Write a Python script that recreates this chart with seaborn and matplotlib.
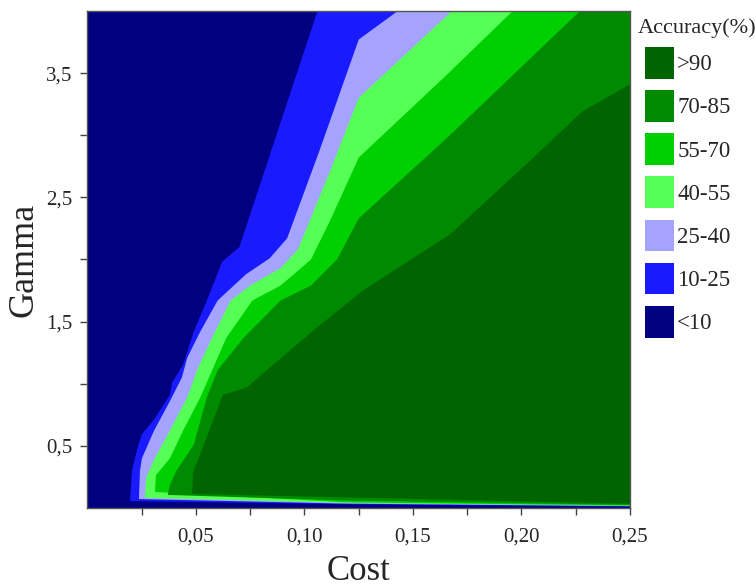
import matplotlib
matplotlib.use("Agg")
import matplotlib.pyplot as plt
import seaborn as sns
from matplotlib.patches import Patch

# ---------------- data ----------------
# Iso-accuracy boundary lines: cost (x) and gamma (y), from top/right edge down to bottom-left corner
b10_cost = [0.106, 0.070, 0.062, 0.055, 0.049, 0.044, 0.039, 0.038, 0.031, 0.025, 0.023, 0.0205, 0.0196]
b10_gamma = [4.0, 2.10, 1.98, 1.67, 1.42, 1.15, 1.01, 0.91, 0.72, 0.59, 0.48, 0.30, 0.056]

b25_cost = [0.143, 0.125, 0.107, 0.092, 0.084, 0.073, 0.060, 0.052, 0.046, 0.0435, 0.038, 0.0306, 0.0251, 0.0242, 0.0237]
b25_gamma = [4.0, 3.77, 2.88, 2.17, 2.01, 1.88, 1.67, 1.42, 1.21, 1.05, 0.86, 0.62, 0.40, 0.30, 0.072]

b40_cost = [0.168, 0.125, 0.112, 0.097, 0.089, 0.075, 0.066, 0.058, 0.051, 0.046, 0.037, 0.031, 0.027, 0.0265]
b40_gamma = [4.0, 3.30, 2.72, 2.08, 1.93, 1.79, 1.67, 1.39, 1.13, 0.89, 0.59, 0.40, 0.24, 0.080]

b55_cost = [0.196, 0.167, 0.125, 0.112, 0.103, 0.089, 0.076, 0.064, 0.058, 0.052, 0.044, 0.038, 0.0316, 0.0311]
b55_gamma = [4.0, 3.51, 2.82, 2.32, 2.00, 1.79, 1.67, 1.37, 1.13, 0.89, 0.62, 0.40, 0.265, 0.129]

b70_cost = [0.227, 0.167, 0.125, 0.115, 0.103, 0.089, 0.072, 0.060, 0.055, 0.049, 0.041, 0.038, 0.037]
b70_gamma = [4.0, 3.00, 2.33, 2.00, 1.79, 1.67, 1.37, 1.11, 0.89, 0.51, 0.30, 0.185, 0.105]

b85_cost = [0.25, 0.228, 0.203, 0.167, 0.150, 0.127, 0.107, 0.084, 0.0735, 0.0624, 0.0486, 0.0482]
b85_gamma = [3.41, 3.19, 2.78, 2.20, 2.01, 1.75, 1.47, 1.13, 0.97, 0.91, 0.28, 0.113]

# thin strips along the bottom edge (gamma of each boundary at cost 0.12 and 0.25)
bottom_cost = [0.12, 0.25]
b10_bottom = [0.030, 0.010]
b25_bottom = [0.035, 0.015]
b40_bottom = [0.040, 0.018]
b55_bottom = [0.045, 0.020]
b70_bottom = [0.060, 0.025]
b85_bottom = [0.085, 0.035]

labels = ["<10", "10-25", "25-40", "40-55", "55-70", "70-85", ">90"]
colors = ["#000080", "#1a1aff", "#a4a4ff", "#55ff55", "#00d000", "#008a00", "#006400"]

x_ticks = [0.05, 0.10, 0.15, 0.20, 0.25]
x_tick_labels = ["0,05", "0,10", "0,15", "0,20", "0,25"]
x_minor = [0.025, 0.075, 0.125, 0.175, 0.225]
y_ticks = [0.5, 1.5, 2.5, 3.5]
y_tick_labels = ["0,5", "1,5", "2,5", "3,5"]
y_minor = [1.0, 2.0, 3.0]

# ---------------- plotting ----------------
sns.set_theme(style="ticks")
plt.rcParams["font.family"] = ["Liberation Serif", "DejaVu Serif"]

fig = plt.figure(figsize=(7.56, 5.87), dpi=100)
ax = fig.add_axes([0.1157, 0.1346, 0.8333 - 0.1157, 0.9813 - 0.1346])
ax.set_xlim(0, 0.25)
ax.set_ylim(0, 4.0)

# background (<10)
ax.fill([0, 0.25, 0.25, 0], [0, 0, 4.0, 4.0], color=colors[0], lw=0, zorder=1)

bounds = [
    (b10_cost, b10_gamma, b10_bottom),
    (b25_cost, b25_gamma, b25_bottom),
    (b40_cost, b40_gamma, b40_bottom),
    (b55_cost, b55_gamma, b55_bottom),
    (b70_cost, b70_gamma, b70_bottom),
    (b85_cost, b85_gamma, b85_bottom),
]
for i, (bc, bg, bb) in enumerate(bounds):
    xs = list(bc) + list(bottom_cost)
    ys = list(bg) + list(bb)
    if bg[0] >= 4.0:
        xs.append(0.25)
        ys.append(4.0)
    ax.fill(xs, ys, color=colors[i + 1], lw=0, zorder=2 + i, antialiased=True)

ax.set_xticks(x_ticks)
ax.set_xticklabels(x_tick_labels)
ax.set_xticks(x_minor, minor=True)
ax.set_yticks(y_ticks)
ax.set_yticklabels(y_tick_labels)
ax.set_yticks(y_minor, minor=True)
ax.tick_params(axis="both", which="both", direction="out", length=5, width=1,
               color="#444444", labelsize=15)
ax.tick_params(axis="x", which="major", pad=9)
ax.tick_params(axis="y", which="major", pad=6)
for sp in ax.spines.values():
    sp.set_color("#555555")
    sp.set_linewidth(1)
    sp.set_zorder(20)

ax.set_xlabel("Cost", fontsize=25, labelpad=6)
ax.set_ylabel("Gamma", fontsize=26, labelpad=4)

fig.text(638 / 756, 1 - 28 / 587, "Accuracy(%)", fontsize=16, ha="left", va="center")

handles = [Patch(facecolor=colors[k], edgecolor="none") for k in range(len(labels) - 1, -1, -1)]
names = [labels[k] for k in range(len(labels) - 1, -1, -1)]
leg = fig.legend(handles, names, loc="upper left",
                 bbox_to_anchor=(645 / 756, 1 - 47 / 587), frameon=False, fontsize=16.5,
                 handlelength=1.25, handleheight=1.75,
                 handletextpad=0.15, labelspacing=0.5, borderaxespad=0, borderpad=0.0)

fig.savefig("out.png", dpi=100)
